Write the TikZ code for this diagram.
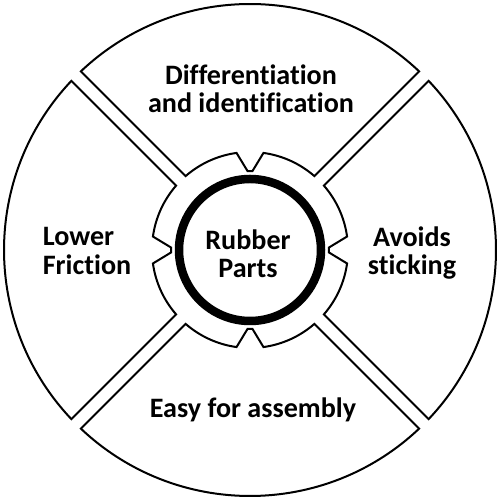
\documentclass[tikz,border=0pt]{standalone}
\usepackage{fontspec}
\setmainfont{Carlito}[Ligatures={NoCommon,NoRequired,NoContextual}]
\usetikzlibrary{positioning}

\begin{document}
\begin{tikzpicture}[
  scale=0.02,
  sector/.style={draw, line width=0.4mm, fill=white, line join=miter},
  label/.style={font=\fontsize{16}{16}\selectfont\bfseries, align=center},
  ring/.style={draw, line width=1.7mm}
]
\useasboundingbox (-250,-250) rectangle (250,250);

% four sectors with an inward tab each
\foreach \a in {90,0,-90,180}{
  \draw[sector] (\a+43.44:246) arc[start angle=\a+43.44, end angle=\a-43.44, radius=246]
    -- (\a-41.08:98) arc[start angle=\a-41.08, end angle=\a-7.9, radius=98]
    -- (\a-1.8:79) -- (\a+1.8:79) -- (\a+7.9:98)
    arc[start angle=\a+7.9, end angle=\a+41.08, radius=98] -- cycle;
}

\draw[ring] (0,0) circle (71);

\node[label] (core) at (-2,-4) {Rubber\\Parts};
\node[label] (top) at (1,161) {Differentiation\\and identification};
\node[label, align=left] (left) at (-163,-1) {Lower\\Friction};
\node[label] (right) at (162,-3) {Avoids\\sticking};
\node[label] (bottom) at (3,-160) {Easy for assembly};
\end{tikzpicture}
\end{document}
